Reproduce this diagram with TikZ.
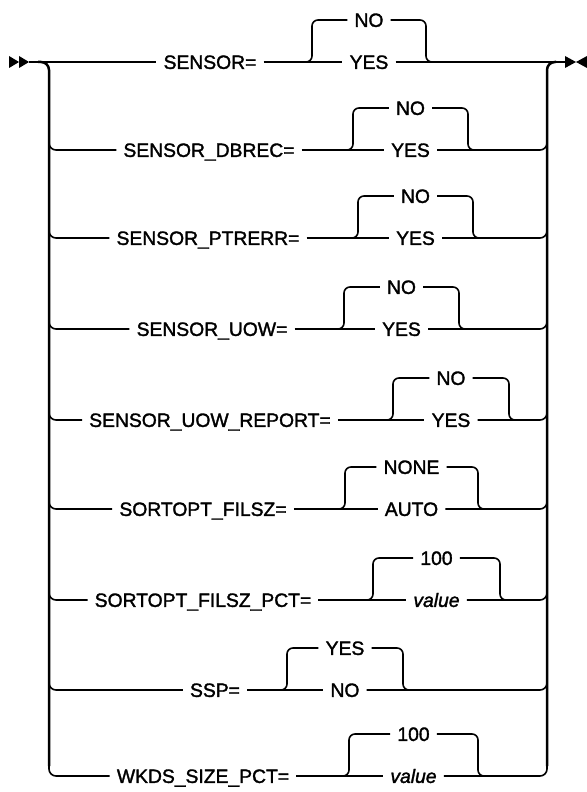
\documentclass[tikz,border=0pt]{standalone}
\usepackage{fontspec}
\setmainfont{Liberation Sans}
\newfontfamily\rrfont{Liberation Sans}[FakeBold=1.6]
\begin{document}
\begin{tikzpicture}[x=1pt,y=-1pt,
  lbl/.style={font=\rrfont\fontsize{19.3}{19.3}\selectfont, inner xsep=7pt, inner ysep=0pt, text height=13.8pt, text depth=0pt},
  ln/.style={line width=1.6pt},
  brk/.style={line width=1.6pt, rounded corners=6pt},
  branch/.style={line width=1.6pt, rounded corners=7pt},
  railline/.style={line width=2.5pt, rounded corners=8pt},
  tip/.style={fill=black}]
\useasboundingbox (0,0) rectangle (586,792);

% start / end arrows
\fill[tip] (9,56) -- (19,62) -- (9,68) -- cycle;
\fill[tip] (19,56) -- (29,62) -- (19,68) -- cycle;
\fill[tip] (565,56) -- (576,62) -- (565,68) -- cycle;
\fill[tip] (587,56) -- (576,62) -- (587,68) -- cycle;
\coordinate (start) at (29,62);
\coordinate (finish) at (565,62);

% rows: index / y / label / label centre / left bracket x / right bracket x / top / bottom
\foreach \i/\y/\lab/\lx/\xl/\xr/\tp/\bt in {
  1/62/SENSOR=/210/312/426/NO/YES,
  2/150/SENSOR\_DBREC=/209/353/468/NO/YES,
  3/238/SENSOR\_PTRERR=/208/358/473/NO/YES,
  4/329/SENSOR\_UOW=/212/344/459/NO/YES,
  5/420/SENSOR\_UOW\_REPORT=/210/393/509/NO/YES,
  6/509/SORTOPT\_FILSZ=/203/345/478/NONE/AUTO,
  7/600/SORTOPT\_FILSZ\_PCT=/203/373/500/100/\textit{value},
  8/690/SSP=/215/287/403/YES/NO,
  9/776/WKDS\_SIZE\_PCT=/203/349/478/100/\textit{value}}{
  \node[lbl] (l\i) at (\lx,\y) {\lab};
  \node[lbl] (b\i) at ({(\xl+\xr)/2},\y) {\bt};
  \node[lbl] (t\i) at ({(\xl+\xr)/2},\y-42) {\tp};
  \coordinate (vl\i) at (\xl,\y);
  \coordinate (vr\i) at (\xr,\y);
  \draw[ln] (l\i.east) -- (b\i.west);
  \draw[brk] (t\i.west) -| (vl\i) -- ++(-8,0);
  \draw[brk] (t\i.east) -| (vr\i) -- ++(8,0);
}

% first row joins start and end
\draw[ln] (start) -- (l1.west);
\draw[ln] (b1.east) -- (finish);

% rails
\coordinate (lrtop) at (38,62);
\coordinate (lrbot) at (49,766);
\coordinate (rrtop) at (556,62);
\coordinate (rrbot) at (547,766);
\draw[railline] (lrtop) -| (lrbot);
\draw[railline] (rrbot) |- (rrtop);

% branches of the other rows
\foreach \i/\y in {2/150,3/238,4/329,5/420,6/509,7/600,8/690,9/776}{
  \draw[branch] (49,\y-12) |- (l\i.west);
  \draw[branch] (b\i.east) -| (547,\y-12);
}
\end{tikzpicture}
\end{document}
